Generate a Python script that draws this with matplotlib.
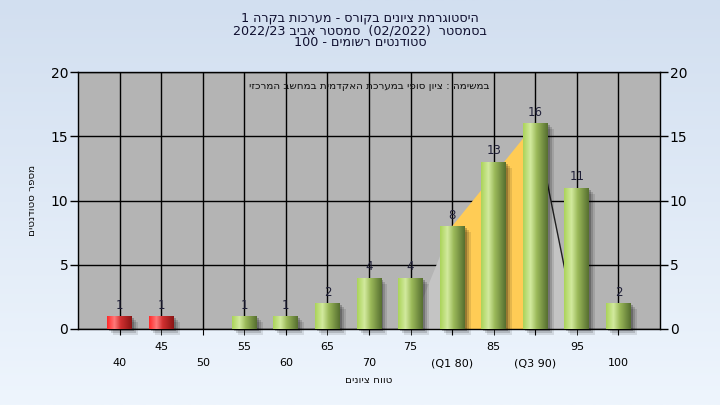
import re
import numpy as np
import matplotlib
matplotlib.use("Agg")
import matplotlib.pyplot as plt
from matplotlib.colors import LinearSegmentedColormap
from matplotlib.patches import Polygon, Rectangle
from matplotlib import transforms

# data
grades = [40, 45, 50, 55, 60, 65, 70, 75, 80, 85, 90, 95, 100]
tick_labels = ["40", "45", "50", "55", "60", "65", "70", "75",
               "(Q1 80)", "85", "(Q3 90)", "95", "100"]
counts = [1, 1, 0, 1, 1, 2, 4, 4, 8, 13, 16, 11, 2]
fail_below = 55
q1, q3 = 80, 90

title_lines = ["היסטוגרמת ציונים בקורס - מערכות בקרה 1",
               "בסמסטר  (02/2022)  סמסטר אביב 2022/23",
               "סטודנטים רשומים - 100"]
note = "במשימה : ציון סופי במערכת האקדמית במחשב המרכזי"
xlabel = "טווח ציונים"
ylabel = "מספר סטודנטים"


def rtl(s):
    # matplotlib has no bidi: flip the string, keep number runs left-to-right
    r = s[::-1]
    r = re.sub(r"[0-9A-Za-z/()]+", lambda m: m.group(0)[::-1], r)
    return r


plt.rcParams['font.family'] = ['DejaVu Sans']

fig = plt.figure(figsize=(7.2, 4.05), dpi=100)

# background gradient
bg = fig.add_axes([0, 0, 1, 1], zorder=-10)
bg.imshow(np.linspace(0, 1, 256).reshape(-1, 1), aspect='auto',
          cmap=LinearSegmentedColormap.from_list("bg", ["#d2dff0", "#eef5fd"]),
          extent=[0, 1, 0, 1])
bg.axis('off')

ax = fig.add_axes([78/720, 1-329/405, (660-78)/720, (329-72)/405])
ax.set_facecolor("#b4b4b4")

x = np.arange(len(grades))
ix1 = grades.index(q1)
ix3 = grades.index(q3)

# quartile band
poly_l = Polygon([(ix1-1, 0), (ix1, counts[ix1]), (ix1, 0)],
                 closed=True, fc="#c4c4c4", ec="none", zorder=2)
poly_m = Polygon([(ix1, 0), (ix1, counts[ix1]), (ix3, counts[ix3]), (ix3, 0)],
                 closed=True, fc="#ffcc55", ec="none", zorder=2)
poly_r = Polygon([(ix3, 0), (ix3, counts[ix3]), (ix3+1, 0)],
                 closed=True, fc="#c4c4c4", ec="none", zorder=2)
for p in (poly_l, poly_m, poly_r):
    ax.add_patch(p)
ax.plot([ix3, ix3+1], [counts[ix3], 0], color="#202020", lw=1, zorder=2.5)

green = LinearSegmentedColormap.from_list(
    "g", [(0, "#abd35a"), (0.3, "#d2ea9e"), (0.55, "#9cba5a"), (1, "#566f30")])
red = LinearSegmentedColormap.from_list(
    "r", [(0, "#ff2a2a"), (0.3, "#ff7a7a"), (0.55, "#d03030"), (1, "#8a1515")])
grad = np.linspace(0, 1, 64).reshape(1, -1)

width = 0.6
bars = ax.bar(x, counts, width=width, color="none", edgecolor="none", zorder=4)
for xi, b, c, g in zip(x, bars, counts, grades):
    if c == 0:
        continue
    # soft shadow
    for k, a in [(6, 0.10), (4, 0.15), (2, 0.22)]:
        tr = transforms.offset_copy(ax.transData, fig=fig, x=k*0.72, y=-k*0.72, units='points')
        ax.add_patch(Rectangle((xi - width/2, 0), width, c, transform=tr,
                               fc="black", alpha=a, ec="none", zorder=3, clip_on=False))
    im = ax.imshow(grad, extent=[xi - width/2, xi + width/2, 0, c], aspect='auto',
                   cmap=red if g < fail_below else green, zorder=4)
    im.set_clip_path(b)
    ax.text(xi, c + 0.35, str(c), ha='center', va='bottom', fontsize=8.5,
            color="#202038", zorder=5)

ax.set_xlim(-1, len(grades))
ax.set_ylim(0, 20)
ax.set_yticks([0, 5, 10, 15, 20])
ax.tick_params(axis='y', which='both', left=True, right=True, labelleft=True,
               labelright=True, direction='out', length=6, width=1, labelsize=10,
               pad=1)

ax.set_xticks(x[::2])
ax.set_xticklabels(tick_labels[::2])
ax.set_xticks(x[1::2], minor=True)
ax.set_xticklabels(tick_labels[1::2], minor=True)
ax.tick_params(axis='x', which='major', length=4, pad=17, labelsize=8)
ax.tick_params(axis='x', which='minor', length=4, pad=5, labelsize=8)

ax.grid(True, axis='both', which='both', color='black', lw=1, zorder=1)
ax.set_axisbelow(True)
for s in ax.spines.values():
    s.set_color('black')
    s.set_linewidth(1)

ax.text(0.5, 0.945, rtl(note), transform=ax.transAxes, ha='center', va='center',
        fontsize=7.5, color="#101010", zorder=6)

ax.set_xlabel(rtl(xlabel), fontsize=7.5, labelpad=5, color="#101010")
ax.set_ylabel(rtl(ylabel), fontsize=7.5, labelpad=10, color="#101010")

for i, line in enumerate(title_lines):
    fig.text(0.5, 1 - (18 + 12.5*i)/405, rtl(line), ha='center', va='center',
             fontsize=9.2, color="#101030")

fig.savefig("out.png", dpi=100)
